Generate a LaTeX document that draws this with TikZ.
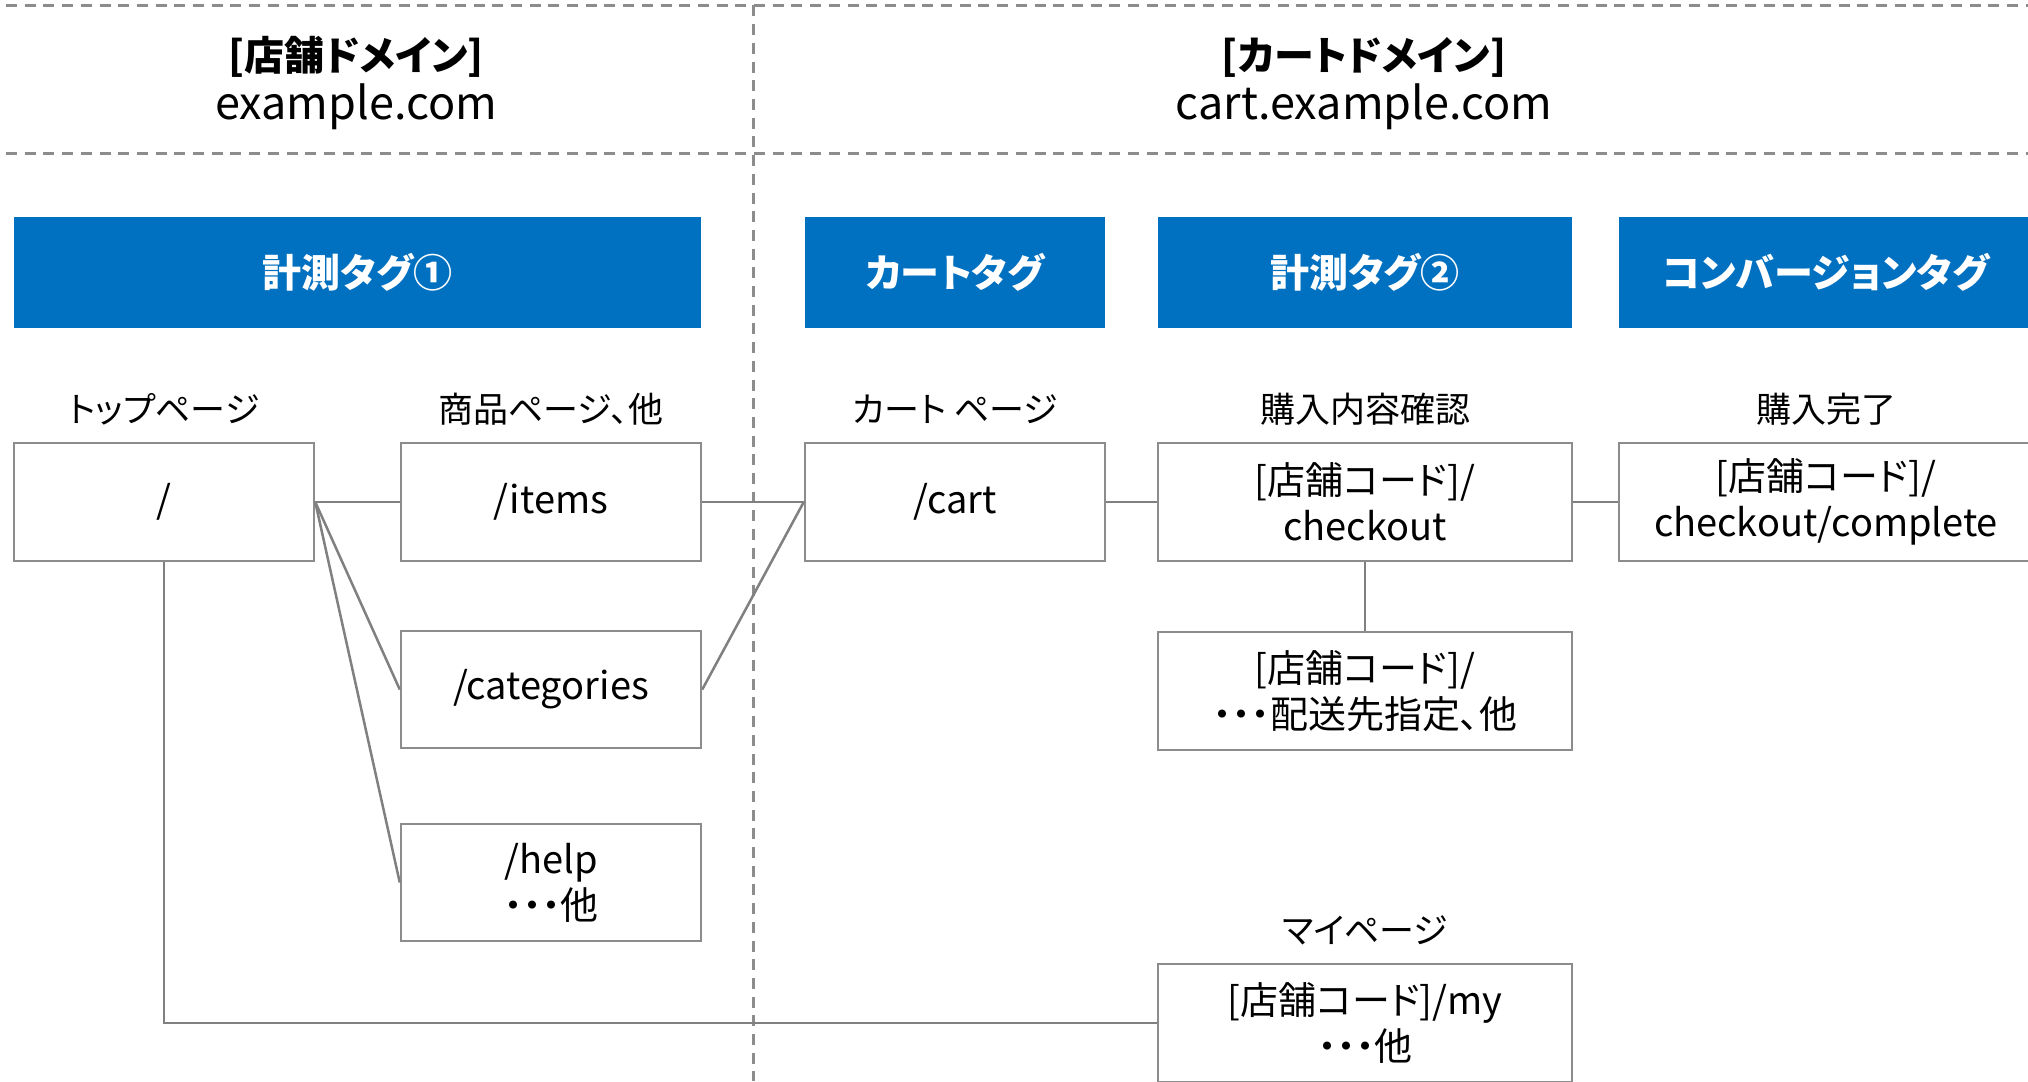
\documentclass[tikz,border=0pt]{standalone}
\usepackage{fontspec}
\setmainfont{Noto Sans CJK JP}[RawFeature=+palt]
\definecolor{tagblue}{HTML}{0070C0}
\definecolor{boxgray}{HTML}{8C8C8C}
\definecolor{linegray}{HTML}{808080}
\definecolor{dashgray}{HTML}{8C8C8C}
\begin{document}
\begin{tikzpicture}[x=1pt,y=-1pt,
  pagebox/.style={draw=boxgray, line width=2.5pt, fill=white, minimum height=118pt, inner sep=0pt, align=center, font=\fontsize{38}{46}\selectfont},
  tagbox/.style={fill=tagblue, text=white, minimum height=111pt, inner sep=0pt, font=\bfseries\fontsize{39}{46}\selectfont},
  pagelabel/.style={inner sep=0pt, font=\fontsize{35}{40}\selectfont},
  domaintitle/.style={inner sep=0pt, font=\bfseries\fontsize{40}{46}\selectfont},
  domainname/.style={inner sep=0pt, font=\fontsize{45}{50}\selectfont},
  link/.style={draw=linegray, line width=2.5pt},
  divider/.style={draw=dashgray, line width=3pt, dash pattern=on 11pt off 7.7pt}]
\useasboundingbox (0,0) rectangle (2028,1081);
\fill[white] (0,0) rectangle (2028,1081);

% dividers
\coordinate (h1a) at (6,5.5);   \coordinate (h1b) at (2028,5.5);
\coordinate (h2a) at (6,153);   \coordinate (h2b) at (2028,153);
\coordinate (v1a) at (753.5,5.5); \coordinate (v1b) at (753.5,1081);
\draw[divider] (h1a) -- (h1b);
\draw[divider] (h2a) -- (h2b);
\draw[divider] (v1a) -- (v1b);

% domain titles
\node[domaintitle] (t1) at (356,57) {[店舗ドメイン]};
\node[domainname] (d1) at (356,107) {example.com};
\node[domaintitle] (t2) at (1364,57) {[カートドメイン]};
\node[domainname] (d2) at (1364,107) {cart.example.com};

% tag boxes
\node[tagbox, minimum width=687pt] (tag1) at (357.5,272.5) {計測タグ①};
\node[tagbox, minimum width=300pt] (tag2) at (955,272.5) {カートタグ};
\node[tagbox, minimum width=414pt] (tag3) at (1365,272.5) {計測タグ②};
\node[tagbox, minimum width=414pt] (tag4) at (1826,272.5) {コンバージョンタグ};

% page labels
\node[pagelabel] (l1) at (164,409) {トップページ};
\node[pagelabel] (l2) at (551,409) {商品ページ、他};
\node[pagelabel] (l3) at (955,409) {カート ページ};
\node[pagelabel] (l4) at (1365,409) {購入内容確認};
\node[pagelabel] (l5) at (1826,409) {購入完了};
\node[pagelabel] (l6) at (1365,930) {マイページ};

% page boxes
\node[pagebox, minimum width=300pt] (root) at (164,502) {/};
\node[pagebox, minimum width=300pt] (items) at (551,502) {/items};
\node[pagebox, minimum width=300pt, minimum height=117pt] (cats) at (551,689.5) {/categories};
\node[pagebox, minimum width=300pt, minimum height=117pt] (help) at (551,882.5) {/help\\・・・他};
\node[pagebox, minimum width=300pt] (cart) at (955,502) {/cart};
\node[pagebox, minimum width=414pt] (chk) at (1365,502) {[店舗コード]/\\checkout};
\node[pagebox, minimum width=414pt] (done) at (1826,502) {[店舗コード]/\\checkout/complete};
\node[pagebox, minimum width=414pt] (ship) at (1365,691) {[店舗コード]/\\・・・配送先指定、他};
\node[pagebox, minimum width=414pt] (my) at (1365,1023) {[店舗コード]/my\\・・・他};

% connectors
\draw[link] (root.east) -- (items.west);
\draw[link] (root.east) -- (cats.west);
\draw[link] (root.east) -- (help.west);
\draw[link] (items.east) -- (cart.west);
\draw[link] (cats.east) -- (cart.west);
\draw[link] (cart.east) -- (chk.west);
\draw[link] (chk.east) -- (done.west);
\draw[link] (chk.south) -- (ship.north);
\draw[link] (root.south) |- (my.west);
\end{tikzpicture}
\end{document}
